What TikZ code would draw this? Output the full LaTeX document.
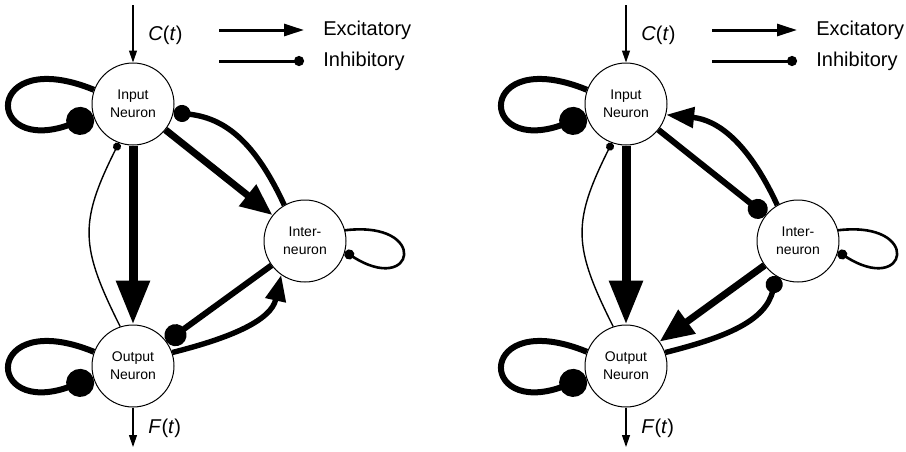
\documentclass[tikz,border=0pt]{standalone}
\usepackage{fontspec}
\setmainfont{Liberation Sans}
\usetikzlibrary{arrows.meta}

\begin{document}
\begin{tikzpicture}[x=0.5pt,y=-0.5pt,
  neuron/.style={circle,draw,line width=0.5pt,fill=white,minimum size=41pt,
    inner sep=0pt,align=center,font=\fontsize{7}{9}\selectfont},
  lbl/.style={anchor=base west,inner sep=0pt,font=\fontsize{10}{12}\selectfont},
  exc/.style 2 args={-{Triangle[length=#1,width=#2]}},
  inh/.style={-{Circle[length=#1]}}]
  % Configurable parameters
  \def\loopw{3pt}
  \def\curvew{2.7pt}
  %
  % Frame
  \useasboundingbox (0,0) rectangle (906,451);
  %
  % Parts shared by both circuits
  \foreach \p/\dx in {A/0,B/493}{
  \begin{scope}[shift={(\dx,0)}]
    % Neurons
    \node[neuron] (in\p) at (133,104) {Input\\Neuron};
    \node[neuron] (out\p) at (133,366) {Output\\Neuron};
    \node[neuron] (int\p) at (305,241) {Inter-\\neuron};
    %
    % Input and output signals
    \coordinate (c\p) at (133,5);
    \coordinate (f\p) at (133,447);
    \draw[line width=0.6pt,exc={6pt}{4pt}] (c\p) -- (in\p);
    \draw[line width=0.6pt,exc={6pt}{4pt}] (out\p) -- (f\p);
    \node[lbl] (ct\p) at (148,40) {\textit{C}(\textit{t})};
    \node[lbl] (ft\p) at (148,433) {\textit{F}(\textit{t})};
    %
    % Legend
    \coordinate (exs\p) at (219,30);
    \coordinate (exe\p) at (304,30);
    \coordinate (ihs\p) at (219,61);
    \coordinate (ihe\p) at (304,61);
    \draw[line width=1.5pt,exc={10pt}{6pt}] (exs\p) -- (exe\p);
    \draw[line width=1.5pt,inh=5pt] (ihs\p) -- (ihe\p);
    \node[lbl] (ex\p) at (323,35.5) {Excitatory};
    \node[lbl] (ih\p) at (323,66.5) {Inhibitory};
    %
    % Self loops
    \draw[line width=\loopw,inh=14pt] (in\p.160) .. controls +(-110,-45) and +(-110,40) .. (in\p.197);
    \draw[line width=\loopw,inh=14pt] (out\p.160) .. controls +(-110,-45) and +(-110,40) .. (out\p.197);
    \draw[line width=1.3pt,inh=5pt] (int\p.15) .. controls +(85,-10) and +(70,45) .. (int\p.-15);
    %
    % Input to output and back
    \draw[line width=4.5pt,exc={22pt}{16pt}] (in\p) -- (out\p);
    \draw[line width=0.7pt,inh=4pt] (out\p.108) .. controls +(-40,-80) and +(-40,80) .. (in\p.250);
  \end{scope}}
  %
  % Left circuit
  \draw[line width=3.5pt,exc={16pt}{13pt}] (inA) -- (intA);
  \draw[line width=\curvew,inh=8.5pt] (intA.120) .. controls +(-30,-65) and +(50,5) .. (inA.-12);
  \draw[line width=3pt,inh=11pt] (intA) -- (outA);
  \draw[line width=\curvew,exc={13pt}{10pt}] (outA.19) .. controls +(60,-15) and +(-10,45) .. (intA.235);
  %
  % Right circuit
  \draw[line width=3pt,inh=10pt] (inB) -- (intB);
  \draw[line width=\curvew,exc={14pt}{10pt}] (intB.120) .. controls +(-30,-65) and +(50,5) .. (inB.-15);
  \draw[line width=3.5pt,exc={17pt}{14pt}] (intB) -- (outB);
  \draw[line width=\curvew,inh=8.5pt] (outB.19) .. controls +(60,-15) and +(-10,45) .. (intB.238);
  %
\end{tikzpicture}
\end{document}
